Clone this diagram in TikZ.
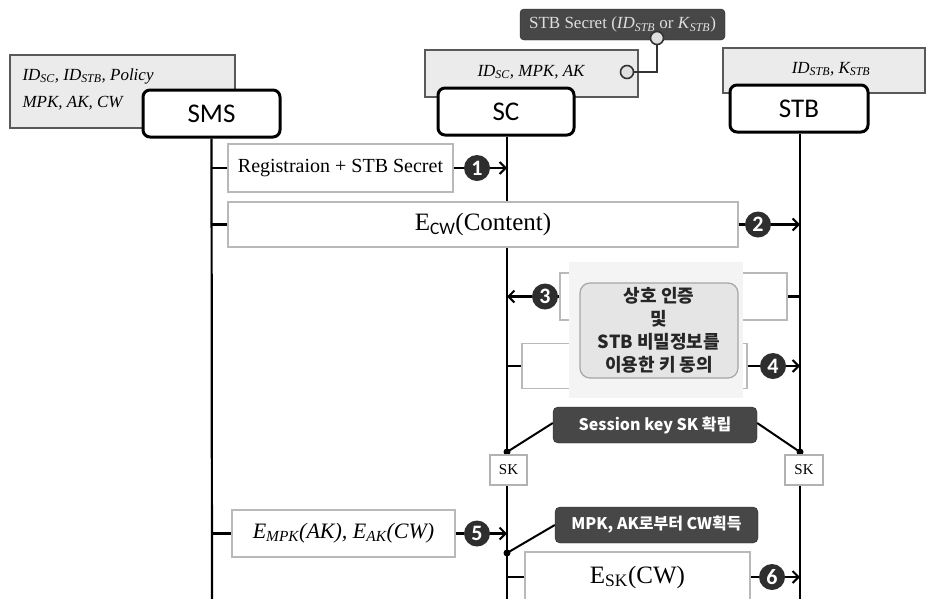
\documentclass[tikz,border=0pt]{standalone}
\usepackage{fontspec}
\setmainfont{Liberation Serif}
\newfontfamily\calfont{Carlito}
\newfontfamily\krfont{Noto Sans CJK KR}
\usetikzlibrary{arrows.meta}
\newcommand{\fs}[1]{\fontsize{#1}{#1}\selectfont}
\newcommand{\sbt}[1]{\textsubscript{#1}}
\begin{document}
\begin{tikzpicture}[x=1pt,y=-1pt,
  infobox/.style={draw=gray!70!black, fill=gray!16, line width=1.3pt, inner sep=0pt},
  actor/.style={draw=black, line width=3pt, rounded corners=7pt, fill=white, inner sep=0pt, font=\calfont\fs{27}},
  msgbox/.style={draw=gray!55, fill=white, line width=1.2pt, inner sep=0pt},
  num/.style={circle, fill=black!82, text=white, inner sep=0pt, minimum size=26pt, font=\calfont\bfseries\fs{22}},
  darkbox/.style={fill=black!72, draw=black!85, rounded corners=5pt, text=white, inner sep=0pt, font=\krfont\bfseries\fs{16}},
  life/.style={line width=2.2pt},
  tick/.style={line width=2.2pt},
  arr/.style={line width=2.2pt, -{Straight Barb[length=6pt,width=12pt,line width=2pt]}},
  skbox/.style={draw=gray!60, fill=white, line width=1.1pt, inner sep=0pt, minimum width=37pt, minimum height=30pt, font=\fs{15}},
  dot/.style={circle, fill=black, inner sep=0pt, minimum size=7pt},
  ring/.style={circle, draw=black!80, fill=gray!25, line width=1.6pt, inner sep=0pt, minimum size=13pt},
  conn/.style={line width=2pt},
]
\useasboundingbox (0,0) rectangle (928,598);
\clip (0,0) rectangle (928,598);

% info boxes
\node[infobox, minimum width=225pt, minimum height=73pt] (smsinfo) at (122.5,91.5) {};
\node[anchor=west, font=\itshape\fs{17}] (smsinfoA) at (19,76) {ID\sbt{SC}, ID\sbt{STB}, Policy};
\node[anchor=west, font=\itshape\fs{17}] (smsinfoB) at (19,103) {MPK, AK, CW};
\node[infobox, minimum width=213pt, minimum height=47pt] (scinfo) at (531.5,73.5) {};
\node[font=\itshape\fs{17}] (scinfoT) at (531,72) {ID\sbt{SC}, MPK, AK};
\node[infobox, minimum width=202pt, minimum height=45pt] (stbinfo) at (824,70.5) {};
\node[font=\itshape\fs{17}] (stbinfoT) at (831,69) {ID\sbt{STB}, K\sbt{STB}};

% STB secret
\node[darkbox, rounded corners=4pt, minimum width=205pt, minimum height=31pt, text=gray!25, font=\fs{17}] (secret) at (622.5,24.5) {STB Secret (\textit{ID}\sbt{\textit{STB}} or \textit{K}\sbt{\textit{STB}})};
\node[ring] (ringA) at (627,72) {};
\node[ring] (ringB) at (657,38) {};
\draw[line width=1.6pt, black!80] (ringA.east) -| (ringB.south);

% actors
\node[actor, minimum width=137pt, minimum height=47pt] (sms) at (211.5,113.5) {SMS};
\node[actor, minimum width=136pt, minimum height=47pt] (sc) at (506,111.5) {SC};
\node[actor, minimum width=138pt, minimum height=47pt] (stb) at (799,108.5) {STB};

\coordinate (smsEnd) at (212,600);
\coordinate (scEnd) at (507,600);
\coordinate (stbEnd) at (800,600);

% lifelines
\draw[life] (sms.south) -- (smsEnd);
\draw[life] (sc.south -| scEnd) -- (scEnd);
\draw[life] (stb.south -| stbEnd) -- (stbEnd);

% message 1
\node[msgbox, minimum width=225pt, minimum height=48pt, font=\fs{20}] (m1) at (340.5,168) {Registraion + STB Secret};
\node[num] (n1) at (477,168) {1};
\coordinate (t1) at (212,168);
\coordinate (e1) at (507,168);
\draw[tick] (t1) -- (m1.west);
\draw[tick] (m1.east) -- (n1.west);
\draw[arr] (n1.east) -- (e1);

% message 2
\node[msgbox, minimum width=510pt, minimum height=45pt, font=\fs{25}] (m2) at (483,224.5) {E\sbt{\calfont CW}(Content)};
\node[num] (n2) at (758,224.5) {2};
\coordinate (t2) at (212,224.5);
\coordinate (e2) at (800,224.5);
\draw[tick] (t2) -- (m2.west);
\draw[tick] (m2.east) -- (n2.west);
\draw[arr] (n2.east) -- (e2);

% message 3
\node[msgbox, minimum width=227pt, minimum height=47pt] (m3) at (673.5,296.5) {};
\node[num] (n3) at (545,296.5) {3};
\coordinate (t3) at (800,296.5);
\coordinate (e3) at (507,296.5);
\draw[tick] (t3) -- (m3.east);
\draw[tick] (m3.west) -- (n3.east);
\draw[arr] (n3.west) -- (e3);

% message 4
\node[msgbox, minimum width=225pt, minimum height=45pt] (m4) at (634.5,366) {};
\node[num] (n4) at (773,366) {4};
\coordinate (t4) at (507,366);
\coordinate (e4) at (800,366);
\draw[tick] (t4) -- (m4.west);
\draw[tick] (m4.east) -- (n4.west);
\draw[arr] (n4.east) -- (e4);

% mutual auth box
\node[fill=gray!9, minimum width=174pt, minimum height=136pt, inner sep=0pt] (glow) at (656,330) {};
\node[draw=gray!70, fill=gray!20, line width=1.2pt, rounded corners=10pt, minimum width=158pt, minimum height=95pt, inner sep=0pt, align=center, font=\krfont\bfseries\fontsize{18}{23}\selectfont, text=black!85] (auth) at (659,330.5)
  {상호 인증\\및\\STB 비밀정보를\\이용한 키 동의};

% session key
\node[darkbox, minimum width=204pt, minimum height=36pt] (sess) at (655,425) {Session key SK 확립};
\node[dot] (d1) at (507,452) {};
\node[dot] (d2) at (800,452) {};
\draw[conn] (d1.center) -- (sess.west |- 0,423);
\draw[conn] (d2.center) -- (sess.east |- 0,423);
\node[skbox] (sk1) at (508.5,470) {SK};
\node[skbox, minimum width=38pt] (sk2) at (804,470) {SK};

% message 5
\node[msgbox, minimum width=223pt, minimum height=47pt, font=\itshape\fs{22}] (m5) at (343.5,533.5) {E\sbt{MPK}(AK), E\sbt{AK}(CW)};
\node[num] (n5) at (477,533.5) {5};
\coordinate (t5) at (212,533.5);
\coordinate (e5) at (507,533.5);
\draw[tick] (t5) -- (m5.west);
\draw[tick] (m5.east) -- (n5.west);
\draw[arr] (n5.east) -- (e5);

% CW derive
\node[darkbox, minimum width=203pt, minimum height=36pt] (cwget) at (656.5,525) {MPK, AK로부터 CW획득};
\node[dot] (d3) at (507,553) {};
\draw[conn] (d3.center) -- (cwget.west);

% message 6
\node[msgbox, minimum width=225pt, minimum height=50pt, font=\fs{25}] (m6) at (637.5,577) {E\sbt{SK}(CW)};
\node[num] (n6) at (772,577) {6};
\coordinate (t6) at (507,577);
\coordinate (e6) at (800,577);
\draw[tick] (t6) -- (m6.west);
\draw[tick] (m6.east) -- (n6.west);
\draw[arr] (n6.east) -- (e6);
\end{tikzpicture}
\end{document}
